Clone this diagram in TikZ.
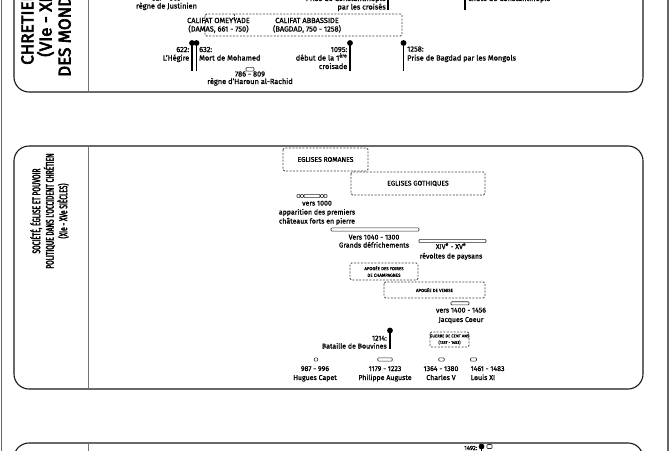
\documentclass[tikz,border=0pt]{standalone}
\usepackage{fontspec}
\setmainfont{Fira Sans}[FakeBold=1.2]
\newfontfamily\condf[FakeStretch=0.6,FakeBold=2.6]{Fira Sans}
\newfontfamily\ttlf[FakeBold=3.8]{Fira Sans}
\begin{document}
\begin{tikzpicture}[x=1pt,y=-1pt,
  panel/.style={draw=black!90, line width=1.1pt, rounded corners=15pt},
  divider/.style={draw=black!55, line width=0.9pt},
  frame/.style={draw=black!60, line width=1.4pt},
  dbox/.style={draw=black!75, line width=0.75pt, dash pattern=on 2pt off 1.4pt, rounded corners=1.5pt},
  bar/.style={draw=black!85, line width=0.6pt, rounded corners=0.8pt, fill=white},
  evline/.style={line width=1.3pt},
  evdot/.style={circle, fill=black, inner sep=0pt, minimum size=5.8pt},
  lbl/.style={inner sep=0pt, font=\fontsize{7.4}{8.5}\selectfont},
  lblb/.style={inner sep=0pt, font=\fontsize{7}{8.5}\selectfont},
  boxlbl/.style={inner sep=0pt, font=\fontsize{6.8}{8}\selectfont, align=center},
  tinylbl/.style={inner sep=0pt, font=\fontsize{4.4}{6.6}\selectfont, align=center},
  ttl/.style={inner sep=0pt, rotate=90, font=\ttlf\fontsize{17}{18}\selectfont},
  ttlb/.style={inner sep=0pt, rotate=90, font=\condf\fontsize{11}{13.5}\selectfont, align=center}]
\useasboundingbox (0,0) rectangle (672,450);
\clip (0,0) rectangle (672,450);
% outer frame
\draw[frame] (1.5,-10) -- (1.5,460);
\draw[frame] (668,-10) -- (668,460);
% ---------- panel 1 ----------
\draw[panel] (14,-250) rectangle (643,92);
\draw[divider] (88,-250) -- (88,92);
\node[ttl, anchor=base west] (t1a) at (33.3,65) {CHRETIENTÉS ET ISLAM};
\node[ttl, anchor=base west] (t1b) at (51.5,57) {(VIe - XIIIe SIÈCLES)};
\node[ttl, anchor=base west] (t1c) at (70.5,77) {DES MONDES EN CONTACT};
% Justinien
\node[lbl, anchor=base] (j1) at (166.5,0.5) {527 - 565};
\node[lbl, anchor=base] (j2) at (166.5,8.5) {règne de Justinien};
% 1204
\coordinate (d1204) at (388,-20);
\coordinate (e1204) at (388,10);
\draw[evline] (d1204) -- (e1204);
\node[lbl, anchor=base east] (l1204a) at (386,1) {Prise de Constantinople};
\node[lbl, anchor=base east] (l1204b) at (386,9.5) {par les croisés};
% 1453
\coordinate (d1453) at (465,-20);
\coordinate (e1453) at (465,10);
\draw[evline] (d1453) -- (e1453);
\node[lbl, anchor=base west] (l1453) at (468,1) {chute de Constantinople};
% califats
\draw[dbox] (205,14) rectangle (402,36);
\draw[dbox] (234,14) -- (234,20);
\node[lbl, anchor=base] (com1) at (218.5,23) {CALIFAT OMEYYADE};
\node[lbl, anchor=base] (com2) at (218.5,31.5) {(DAMAS, 661 - 750)};
\node[lbl, anchor=base] (cab1) at (307,23) {CALIFAT ABBASSIDE};
\node[lbl, anchor=base] (cab2) at (307,31.5) {(BAGDAD, 750 - 1258)};
% 622
\node[evdot] (d622) at (192,43) {};
\coordinate (e622) at (192,71);
\draw[evline] (d622.center) -- (e622);
\node[lbl, anchor=base east] (l622a) at (189.5,52) {622:};
\node[lbl, anchor=base east] (l622b) at (189.5,60.5) {L'Hégire};
% 632
\node[evdot] (d632) at (196.5,43) {};
\coordinate (e632) at (196.5,71);
\draw[evline] (d632.center) -- (e632);
\node[lbl, anchor=base west] (l632a) at (199,52) {632:};
\node[lbl, anchor=base west] (l632b) at (199,60.5) {Mort de Mohamed};
% Haroun
\node[bar, minimum width=8pt, minimum height=3.5pt, inner sep=0pt] (b786) at (250,69.3) {};
\node[lbl, anchor=base] (l786a) at (250,76.5) {786 - 809};
\node[lbl, anchor=base] (l786b) at (250,84) {règne d'Haroun al-Rachid};
% 1095
\node[evdot] (d1095) at (350,43) {};
\coordinate (e1095) at (350,71);
\draw[evline] (d1095.center) -- (e1095);
\node[lbl, anchor=base east] (l1095a) at (347.5,52) {1095:};
\node[lbl, anchor=base east] (l1095b) at (347.5,60.5) {début de la 1\textsuperscript{ère}};
\node[lbl, anchor=base east] (l1095c) at (347.5,69) {croisade};
% 1258
\node[evdot] (d1258) at (403.5,43) {};
\coordinate (e1258) at (403.5,71);
\draw[evline] (d1258.center) -- (e1258);
\node[lbl, anchor=base west] (l1258a) at (407,51.5) {1258:};
\node[lbl, anchor=base west] (l1258b) at (407,60.5) {Prise de Bagdad par les Mongols};
% ---------- panel 2 ----------
\draw[panel] (14,146) rectangle (643,389);
\draw[divider] (88,146) -- (88,389);
\node[ttlb] (t2) at (49.5,211) {SOCIÉTÉ, ÉGLISE ET POUVOIR\\POLITIQUE DANS L'OCCIDENT CHRÉTIEN\\(XIe - XVe SIÈCLES)};
% eglises
\draw[dbox] (283,148) rectangle (368,171);
\node[boxlbl] (rom) at (325.5,159.5) {EGLISES ROMANES};
\draw[dbox] (351,172) rectangle (485,195);
\node[boxlbl] (goth) at (418,183.5) {EGLISES GOTHIQUES};
% vers 1000
\node[bar, minimum width=3pt, minimum height=3.2pt, inner sep=0pt] (v1) at (298.5,196) {};
\node[bar, minimum width=3pt, minimum height=3.2pt, inner sep=0pt] (v2) at (302,196) {};
\node[bar, minimum width=16pt, minimum height=3.2pt, inner sep=0pt] (v3) at (312,196) {};
\node[bar, minimum width=3pt, minimum height=3.2pt, inner sep=0pt] (v4) at (322,196) {};
\node[bar, minimum width=3pt, minimum height=3.2pt, inner sep=0pt] (v5) at (325.5,196) {};
\node[lblb, anchor=base] (l1000a) at (317,205.5) {vers 1000};
\node[lblb, anchor=base] (l1000b) at (317,214.5) {apparition des premiers};
\node[lblb, anchor=base] (l1000c) at (317,223.5) {châteaux forts en pierre};
% defrichements
\node[bar, minimum width=88pt, minimum height=3.2pt, inner sep=0pt] (bdef) at (375,229.5) {};
\node[lblb, anchor=base] (ldefa) at (374,239.5) {Vers 1040 - 1300};
\node[lblb, anchor=base] (ldefb) at (374,247.5) {Grands défrichements};
% revoltes
\node[bar, minimum width=67pt, minimum height=3.2pt, inner sep=0pt] (brev) at (452.5,241) {};
\node[lblb, anchor=base] (lreva) at (451,249) {XIV\textsuperscript{e} - XV\textsuperscript{e}};
\node[lblb, anchor=base] (lrevb) at (451,258.5) {révoltes de paysans};
% apogees
\draw[dbox] (350,263) rectangle (418,280);
\node[tinylbl] (champ) at (384,271.5) {APOGÉE DES FOIRES\\DE CHAMPAGNES};
\draw[dbox] (384,282) rectangle (485,298);
\node[tinylbl] (ven) at (434.5,290) {APOGÉE DE VENISE};
% Jacques Coeur
\node[bar, minimum width=18pt, minimum height=3.2pt, inner sep=0pt] (bjc) at (460,303.3) {};
\node[lblb, anchor=base] (ljca) at (461,312.5) {vers 1400 - 1456};
\node[lblb, anchor=base] (ljcb) at (461,322) {Jacques Coeur};
% 1214
\node[evdot] (d1214) at (390,330.5) {};
\coordinate (e1214) at (390,349);
\draw[evline] (d1214.center) -- (e1214);
\node[lblb, anchor=base east] (l1214a) at (387,340.5) {1214:};
\node[lblb, anchor=base east] (l1214b) at (387,348.5) {Bataille de Bouvines};
% guerre de cent ans
\draw[dbox] (430,332) rectangle (469,347);
\node[tinylbl, font=\fontsize{4.1}{6.6}\selectfont] (gca) at (449.5,339.5) {GUERRE DE CENT ANS\\(1337 - 1453)};
% rois
\node[bar, minimum width=3.5pt, minimum height=3.2pt, inner sep=0pt] (bhc) at (316,359.5) {};
\node[lblb, anchor=base] (lhca) at (315,371) {987 - 996};
\node[lblb, anchor=base] (lhcb) at (315,380) {Hugues Capet};
\node[bar, minimum width=14.5pt, minimum height=3.2pt, inner sep=0pt] (bpa) at (385,359.5) {};
\node[lblb, anchor=base] (lpaa) at (385,371) {1179 - 1223};
\node[lblb, anchor=base] (lpab) at (385,380) {Philippe Auguste};
\node[bar, minimum width=5.5pt, minimum height=3.2pt, inner sep=0pt] (bcv) at (441.5,359.5) {};
\node[lblb, anchor=base] (lcva) at (441,371) {1364 - 1380};
\node[lblb, anchor=base] (lcvb) at (441,380) {Charles V};
\node[bar, minimum width=6pt, minimum height=3.2pt, inner sep=0pt] (blx) at (473.5,359.5) {};
\node[lblb, anchor=base west] (llxa) at (470.5,371) {1461 - 1483};
\node[lblb, anchor=base west] (llxb) at (470.5,380) {Louis XI};
% ---------- panel 3 ----------
\draw[panel] (14,443) rectangle (643,700);
\draw[divider] (88,443) -- (88,700);
\node[bar, minimum width=5pt, minimum height=4pt, inner sep=0pt] (b1492) at (489.5,446.5) {};
\node[evdot] (d1492) at (481.5,446.5) {};
\coordinate (e1492) at (481.5,470);
\draw[evline] (d1492.center) -- (e1492);
\node[lbl, anchor=base east, font=\fontsize{6}{7}\selectfont] (l1492) at (477.5,450) {1492:};
\end{tikzpicture}
\end{document}
